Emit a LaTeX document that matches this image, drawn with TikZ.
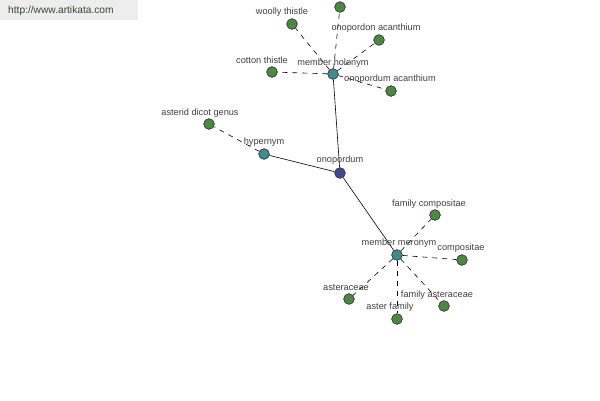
\documentclass[tikz,border=0pt]{standalone}
\usepackage{fontspec}
\setmainfont{Liberation Sans}
\begin{document}
\begin{tikzpicture}[x=1pt,y=-1pt,
  dot/.style={circle,draw=black!75,line width=0.6pt,minimum size=10.5pt,inner sep=0pt},
  leaf/.style={dot,fill={rgb,255:red,76;green,136;blue,64}},
  rel/.style={dot,fill={rgb,255:red,64;green,140;blue,140}},
  root/.style={dot,fill={rgb,255:red,64;green,72;blue,150}},
  lbl/.style={font=\fontsize{9.2}{11}\selectfont,text=black!75,inner sep=0pt},
  solidedge/.style={draw=black,line width=0.6pt},
  dashedge/.style={draw=black,line width=0.6pt,dash pattern=on 5pt off 5pt}]
\useasboundingbox (0,0) rectangle (600,400);
\fill[white] (0,0) rectangle (600,400);
\fill[black!7] (0,0) rectangle (138,20);
\node[font=\fontsize{10.2}{12}\selectfont,text={rgb,255:red,50;green,72;blue,50},anchor=west,inner sep=0pt] (url) at (8,11) {http://www.artikata.com};
% nodes
\node[root] (onop) at (340,173) {};
\node[rel] (hol) at (333,74) {};
\node[rel] (hyp) at (264,154) {};
\node[rel] (mer) at (397,255) {};
\node[leaf] (ast) at (209,124) {};
\node[leaf] (woolly) at (292,24) {};
\node[leaf] (top) at (340,7) {};
\node[leaf] (onac) at (379,40) {};
\node[leaf] (cotton) at (272,72) {};
\node[leaf] (omac) at (391,91) {};
\node[leaf] (famcomp) at (435,215) {};
\node[leaf] (comp) at (462,260) {};
\node[leaf] (famast) at (444,306) {};
\node[leaf] (asterfam) at (397,319) {};
\node[leaf] (asteraceae) at (349,299) {};
% edges
\draw[solidedge] (onop) -- (hol);
\draw[solidedge] (onop) -- (hyp);
\draw[solidedge] (onop) -- (mer);
\draw[dashedge] (hyp) -- (ast);
\foreach \n in {woolly,top,onac,cotton,omac} \draw[dashedge] (hol) -- (\n);
\foreach \n in {famcomp,comp,famast,asterfam,asteraceae} \draw[dashedge] (mer) -- (\n);
% redraw nodes on top of the edges
\node[root] at (onop) {};
\foreach \n in {hol,hyp,mer} \node[rel] at (\n) {};
\foreach \n in {ast,woolly,top,onac,cotton,omac,famcomp,comp,famast,asterfam,asteraceae} \node[leaf] at (\n) {};
% labels
\node[lbl] (l1) at (282,12) {woolly thistle};
\node[lbl] (l2) at (376,28) {onopordon acanthium};
\node[lbl] (l3) at (333,63) {member holonym};
\node[lbl] (l4) at (262,60) {cotton thistle};
\node[lbl] (l5) at (390,79) {onopordum acanthium};
\node[lbl] (l6) at (200,113) {asterid dicot genus};
\node[lbl] (l7) at (264,142) {hypernym};
\node[lbl] (l8) at (340,160) {onopordum};
\node[lbl] (l9) at (429,204) {family compositae};
\node[lbl] (l10) at (399,243) {member meronym};
\node[lbl] (l11) at (461,248) {compositae};
\node[lbl] (l12) at (346,288) {asteraceae};
\node[lbl] (l13) at (437,295) {family asteraceae};
\node[lbl] (l14) at (390,307) {aster family};
\end{tikzpicture}
\end{document}
